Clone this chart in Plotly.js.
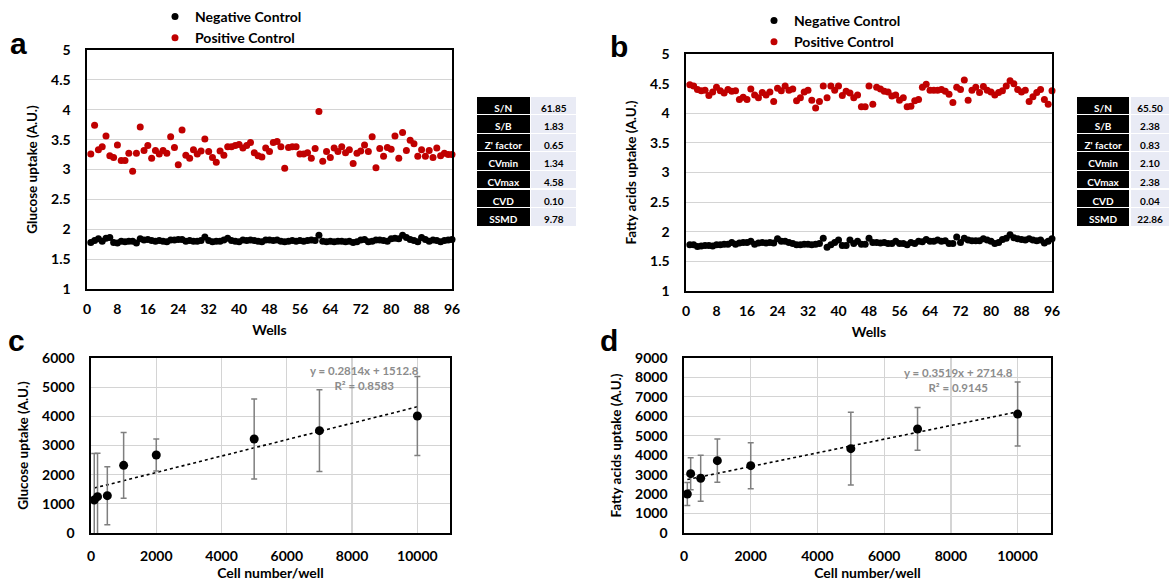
<!DOCTYPE html>
<html>
<head>
<meta charset="utf-8">
<script src="https://cdn.plot.ly/plotly-3.0.1.min.js"></script>
<style>html,body{margin:0;padding:0;background:#fff;}#chart{width:1171px;height:581px;}</style>
</head>
<body>
<div id="chart"></div>
<script>
// ---------- Data ----------
const wellTicks = [0, 8, 16, 24, 32, 40, 48, 56, 64, 72, 80, 88, 96];

const glucoseNeg = [
  1.78,1.81,1.84,1.80,1.85,1.86,1.78,1.77,1.80,1.79,
  1.80,1.80,1.77,1.84,1.82,1.83,1.81,1.80,1.81,1.80,
  1.79,1.82,1.82,1.83,1.83,1.80,1.81,1.80,1.80,1.81,
  1.87,1.81,1.79,1.80,1.80,1.82,1.85,1.81,1.80,1.79,
  1.82,1.81,1.82,1.81,1.80,1.79,1.82,1.82,1.81,1.82,
  1.80,1.79,1.80,1.81,1.80,1.81,1.80,1.81,1.82,1.81,
  1.90,1.80,1.79,1.80,1.79,1.80,1.80,1.79,1.80,1.78,
  1.79,1.82,1.83,1.79,1.80,1.82,1.82,1.81,1.80,1.84,
  1.85,1.84,1.90,1.86,1.83,1.81,1.79,1.86,1.83,1.80,
  1.82,1.81,1.79,1.81,1.82,1.83
];
const glucosePos = [
  3.26,3.74,3.33,3.38,3.56,3.23,3.20,3.41,3.15,3.15,
  3.27,2.97,3.27,3.71,3.32,3.40,3.19,3.32,3.26,3.32,
  3.27,3.55,3.37,3.08,3.66,3.24,3.19,3.33,3.26,3.31,
  3.51,3.30,3.20,3.12,3.31,3.24,3.38,3.38,3.40,3.42,
  3.36,3.40,3.45,3.28,3.23,3.21,3.36,3.30,3.45,3.47,
  3.38,3.02,3.37,3.38,3.38,3.26,3.26,3.28,3.19,3.35,
  3.97,3.14,3.30,3.20,3.36,3.30,3.38,3.28,3.33,3.10,
  3.27,3.31,3.41,3.30,3.55,3.03,3.35,3.22,3.37,3.34,
  3.56,3.19,3.62,3.32,3.49,3.43,3.22,3.33,3.22,3.32,
  3.20,3.36,3.23,3.27,3.25,3.25
];
const fattyNeg = [
  1.78,1.78,1.75,1.76,1.77,1.77,1.76,1.78,1.78,1.79,
  1.79,1.82,1.79,1.81,1.82,1.82,1.84,1.79,1.81,1.82,
  1.81,1.82,1.81,1.88,1.84,1.84,1.82,1.80,1.78,1.78,
  1.79,1.79,1.78,1.79,1.80,1.89,1.74,1.78,1.82,1.86,
  1.77,1.77,1.86,1.80,1.84,1.79,1.79,1.89,1.82,1.82,
  1.81,1.82,1.80,1.80,1.84,1.80,1.80,1.78,1.82,1.80,
  1.84,1.83,1.87,1.84,1.84,1.86,1.84,1.85,1.80,1.80,
  1.91,1.82,1.89,1.86,1.85,1.85,1.85,1.88,1.86,1.84,
  1.80,1.82,1.87,1.89,1.95,1.90,1.88,1.87,1.86,1.88,
  1.86,1.85,1.86,1.81,1.84,1.88
];
const fattyPos = [
  4.48,4.46,4.40,4.38,4.39,4.30,4.36,4.44,4.38,4.34,
  4.40,4.37,4.38,4.23,4.27,4.23,4.41,4.31,4.26,4.35,
  4.31,4.36,4.20,4.42,4.38,4.46,4.39,4.41,4.21,4.26,
  4.36,4.39,4.22,4.09,4.20,4.46,4.26,4.46,4.39,4.46,
  4.30,4.37,4.34,4.26,4.31,4.11,4.11,4.46,4.15,4.44,
  4.41,4.37,4.36,4.29,4.31,4.22,4.26,4.11,4.12,4.21,
  4.23,4.44,4.49,4.39,4.39,4.39,4.40,4.37,4.32,4.18,
  4.44,4.40,4.56,4.22,4.39,4.44,4.35,4.45,4.39,4.36,
  4.31,4.35,4.38,4.46,4.55,4.50,4.40,4.36,4.39,4.20,
  4.28,4.35,4.40,4.23,4.15,4.38
];

const statLabels = ["S/N", "S/B", "Z' factor", "CVmin", "CVmax", "CVD", "SSMD"];
const statsGlucose = ["61.85", "1.83", "0.65", "1.34", "4.58", "0.10", "9.78"];
const statsFatty = ["65.50", "2.38", "0.83", "2.10", "2.38", "0.04", "22.86"];

const cellNumbers = [100, 200, 500, 1000, 2000, 5000, 7000, 10000];
const glucoseUptake = [1130, 1245, 1280, 2320, 2674, 3223, 3508, 4011];
const glucoseErr = [1600, 1490, 995, 1130, 545, 1370, 1400, 1355];
const fattyUptake = [2006, 3050, 2813, 3720, 3463, 4336, 5350, 6115];
const fattyErr = [593, 823, 1183, 1114, 1183, 1870, 1100, 1645];

const glucoseFit = {slope: 0.2814, intercept: 1512.8, r2: "0.8583"};
const fattyFit = {slope: 0.3519, intercept: 2714.8, r2: "0.9145"};

// ---------- Helpers ----------
const wells = glucoseNeg.map((_, i) => i + 1);
const W = 1171, H = 581;
const FONT = "Lato, 'Open Sans', sans-serif";
const RED = "#c00000";
const GRID = "#d4d4d4";
const fx = (a, b) => [a / W, b / W];
const fy = (top, bottom) => [1 - bottom / H, 1 - top / H];
const trendX = [cellNumbers[0], cellNumbers[cellNumbers.length - 1]];
const trendY = fit => trendX.map(x => fit.slope * x + fit.intercept);

const tickFont = {family: FONT, size: 14, color: "#000", weight: "bold"};
const titleFont = {family: FONT, size: 13.5, color: "#000", weight: "bold"};
const xTitleFont = {family: FONT, size: 14, color: "#000", weight: "bold"};

function axisBase(extra) {
  return Object.assign({
    showline: true, mirror: true, linecolor: "#000", linewidth: 1.6,
    ticks: "", zeroline: false, gridcolor: GRID, gridwidth: 1.2,
    tickfont: tickFont, fixedrange: true
  }, extra);
}

const traces = [
  // panel a
  {x: wells, y: glucoseNeg, type: "scatter", mode: "markers", name: "Negative Control",
   marker: {color: "#000", size: 7}, xaxis: "x", yaxis: "y", legend: "legend", cliponaxis: false},
  {x: wells, y: glucosePos, type: "scatter", mode: "markers", name: "Positive Control",
   marker: {color: RED, size: 7}, xaxis: "x", yaxis: "y", legend: "legend", cliponaxis: false},
  // panel b
  {x: wells, y: fattyNeg, type: "scatter", mode: "markers", name: "Negative Control",
   marker: {color: "#000", size: 7}, xaxis: "x2", yaxis: "y2", legend: "legend2", cliponaxis: false},
  {x: wells, y: fattyPos, type: "scatter", mode: "markers", name: "Positive Control",
   marker: {color: RED, size: 7}, xaxis: "x2", yaxis: "y2", legend: "legend2", cliponaxis: false},
  // panel c
  {x: trendX, y: trendY(glucoseFit), type: "scatter", mode: "lines", showlegend: false,
   line: {color: "#000", width: 1.6, dash: "dot"}, xaxis: "x3", yaxis: "y3"},
  {x: cellNumbers, y: glucoseUptake, type: "scatter", mode: "markers", showlegend: false,
   marker: {color: "#000", size: 9},
   error_y: {type: "data", array: glucoseErr, visible: true, color: "#7f7f7f", thickness: 1.5, width: 3},
   xaxis: "x3", yaxis: "y3"},
  // panel d
  {x: trendX, y: trendY(fattyFit), type: "scatter", mode: "lines", showlegend: false,
   line: {color: "#000", width: 1.6, dash: "dot"}, xaxis: "x4", yaxis: "y4"},
  {x: cellNumbers, y: fattyUptake, type: "scatter", mode: "markers", showlegend: false,
   marker: {color: "#000", size: 9},
   error_y: {type: "data", array: fattyErr, visible: true, color: "#7f7f7f", thickness: 1.5, width: 3},
   xaxis: "x4", yaxis: "y4"}
];

function statTable(values, xDom, colW) {
  const fillCols = ["#000000", "#e9ebf5"];
  const fontCols = ["#ffffff", "#000000"];
  const labels = statLabels.map(s => s.replace(/ /g, "\u00a0"));
  const f = {family: FONT, size: 10, color: fontCols, weight: "bold"};
  return {
    type: "table",
    domain: {x: xDom, y: fy(96, 228)},
    columnwidth: colW,
    header: {
      values: [labels[0], values[0]],
      fill: {color: fillCols}, line: {color: "#fff", width: 1.2},
      font: f, align: "center", height: 18.6
    },
    cells: {
      values: [labels.slice(1), values.slice(1)],
      fill: {color: fillCols}, line: {color: "#fff", width: 1.2},
      font: f, align: "center", height: 18.6
    }
  };
}
traces.push(statTable(statsGlucose, fx(476, 577), [54, 46]));
traces.push(statTable(statsFatty, fx(1076, 1171), [54, 40]));

const fitText = fit => "y = " + fit.slope + "x + " + fit.intercept + "<br>R² = " + fit.r2;
const letterFont = {family: "Liberation Sans, Arial, sans-serif", size: 30, weight: "bold", color: "#000"};

const layout = {
  width: W, height: H,
  margin: {l: 0, r: 0, t: 0, b: 0},
  paper_bgcolor: "#fff", plot_bgcolor: "#fff",
  font: {family: FONT, color: "#000"},
  showlegend: true,
  legend: {x: 155 / W, y: 1 - 1 / H, xanchor: "left", yanchor: "top", bgcolor: "rgba(0,0,0,0)",
           font: {family: FONT, size: 14, color: "#000", weight: "bold"}, tracegroupgap: 0, itemwidth: 30},
  legend2: {x: 754 / W, y: 1 - 5 / H, xanchor: "left", yanchor: "top", bgcolor: "rgba(0,0,0,0)",
           font: {family: FONT, size: 14, color: "#000", weight: "bold"}, tracegroupgap: 0, itemwidth: 30},
  xaxis: axisBase({domain: fx(87, 452), anchor: "y", range: [0, 96], tickvals: wellTicks,
    showgrid: false, ticklabelstandoff: 7,
    title: {text: "Wells", font: xTitleFont, standoff: 9}}),
  yaxis: axisBase({domain: fy(50, 289), anchor: "x", range: [1, 5], dtick: 0.5, tick0: 1,
    showgrid: true, ticklabelstandoff: 12,
    title: {text: "Glucose uptake (A.U.)", font: titleFont, standoff: 10}}),
  xaxis2: axisBase({domain: fx(686, 1052), anchor: "y2", range: [0, 96], tickvals: wellTicks,
    showgrid: false, ticklabelstandoff: 7,
    title: {text: "Wells", font: xTitleFont, standoff: 9}}),
  yaxis2: axisBase({domain: fy(54, 291), anchor: "x2", range: [1, 5], dtick: 0.5, tick0: 1,
    showgrid: true, ticklabelstandoff: 12,
    title: {text: "Fatty acids uptake (A.U.)", font: titleFont, standoff: 10}}),
  xaxis3: axisBase({domain: fx(91, 450), anchor: "y3", range: [0, 11000], dtick: 2000, tick0: 0,
    tickformat: "d", showgrid: true, ticklabelstandoff: 10,
    title: {text: "Cell number/well", font: xTitleFont, standoff: 8}}),
  yaxis3: axisBase({domain: fy(358, 533), anchor: "x3", range: [0, 6000], dtick: 1000, tick0: 0,
    tickformat: "d", showgrid: true, ticklabelstandoff: 12,
    title: {text: "Glucose uptake (A.U.)", font: titleFont, standoff: 10}}),
  xaxis4: axisBase({domain: fx(684, 1051), anchor: "y4", range: [0, 11000], dtick: 2000, tick0: 0,
    tickformat: "d", showgrid: true, ticklabelstandoff: 10,
    title: {text: "Cell number/well", font: xTitleFont, standoff: 8}}),
  yaxis4: axisBase({domain: fy(358, 533), anchor: "x4", range: [0, 9000], dtick: 1000, tick0: 0,
    tickformat: "d", showgrid: true, ticklabelstandoff: 12,
    title: {text: "Fatty acids uptake (A.U.)", font: titleFont, standoff: 10}}),
  annotations: [
    {text: "a", xref: "paper", yref: "paper", x: 8 / W, y: 1 - 44 / H, xanchor: "left", yanchor: "middle",
     showarrow: false, font: letterFont},
    {text: "b", xref: "paper", yref: "paper", x: 608 / W, y: 1 - 47 / H, xanchor: "left", yanchor: "middle",
     showarrow: false, font: letterFont},
    {text: "c", xref: "paper", yref: "paper", x: 6 / W, y: 1 - 340 / H, xanchor: "left", yanchor: "middle",
     showarrow: false, font: letterFont},
    {text: "d", xref: "paper", yref: "paper", x: 598 / W, y: 1 - 340 / H, xanchor: "left", yanchor: "middle",
     showarrow: false, font: letterFont},
    {text: fitText(glucoseFit), xref: "x3", yref: "y3", x: 8365, y: 5310, showarrow: false,
     font: {family: FONT, size: 11.5, color: "#8c8c8c", weight: "bold"}, align: "center"},
    {text: fitText(fattyFit), xref: "x4", yref: "y4", x: 8240, y: 7870, showarrow: false,
     font: {family: FONT, size: 11.5, color: "#8c8c8c", weight: "bold"}, align: "center"}
  ]
};

Plotly.newPlot("chart", traces, layout, {displayModeBar: false, staticPlot: true});
</script>
</body>
</html>
